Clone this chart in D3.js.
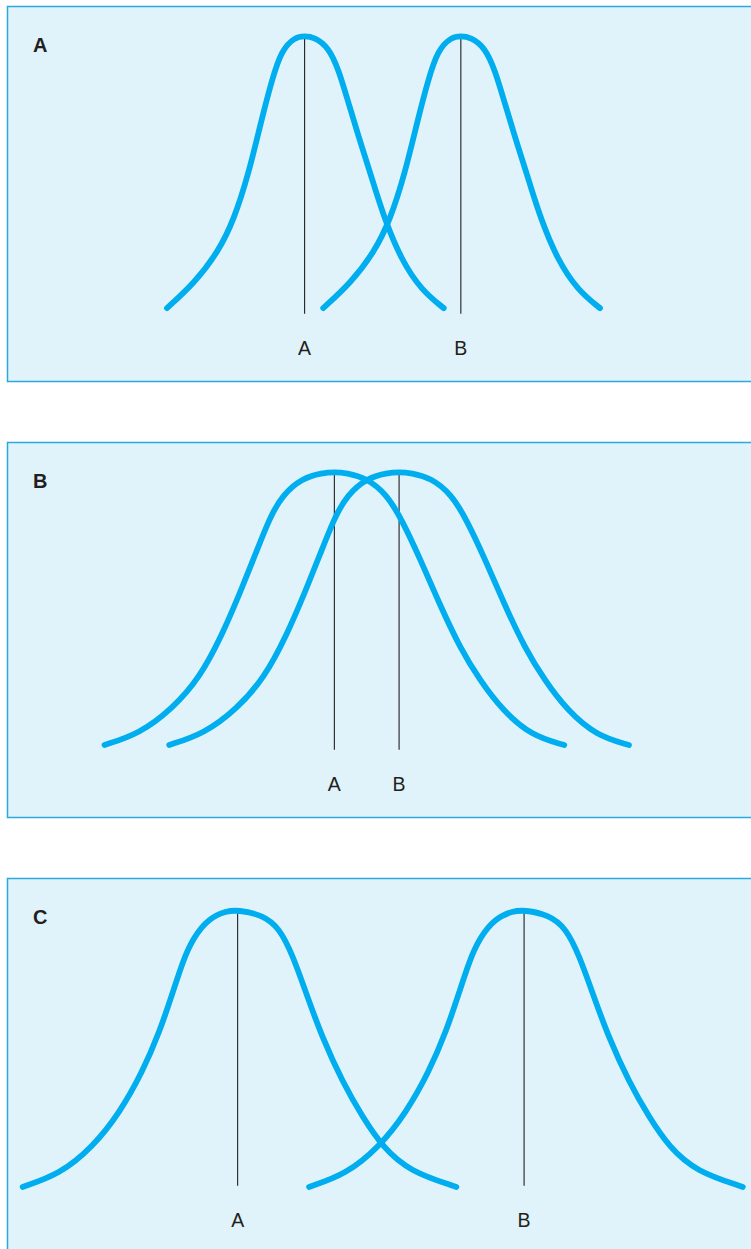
<!DOCTYPE html>
<html>
<head>
<meta charset="utf-8">
<script src="https://cdn.jsdelivr.net/npm/d3@7"></script>
<style>
  html, body { margin: 0; padding: 0; background: #ffffff; }
  svg { display: block; }
</style>
</head>
<body>
<div id="chart"></div>
<script>
// Three scenarios of two overlapping distributions (A and B).
const panelNames = ["A", "B", "C"];
const seriesNames = ["A", "B"];

// Mean position of each distribution on the score axis (0–100)
const meansA = [40, 61];
const meansB = [44, 52.7];
const meansC = [31, 69.5];

// Curve shape per panel: offset from the mean (score units) and relative height
const offsetsA = [-18.5, -14.8, -11.6, -9.5, -7.5, -5.8, -4.4, -3.1, -1.3, 0, 1.3, 3.2, 4.6, 5.9, 7.7, 9.4, 10.8, 13.0, 15.7, 18.7];
const heightsA = [0.035, 0.124, 0.235, 0.348, 0.514, 0.702, 0.844, 0.95, 0.996, 1.0, 0.996, 0.961, 0.879, 0.762, 0.606, 0.465, 0.348, 0.206, 0.099, 0.035];

const offsetsB = [-30.9, -26.2, -21.8, -18.1, -15.1, -12.8, -10.5, -8.7, -7.0, -4.3, -1.6, 0, 1.6, 4.3, 7.0, 9.1, 11.6, 14.2, 16.9, 19.6, 22.6, 26.5, 30.9];
const heightsB = [0.032, 0.072, 0.16, 0.27, 0.422, 0.564, 0.716, 0.837, 0.918, 0.979, 0.997, 1.0, 0.997, 0.979, 0.922, 0.83, 0.688, 0.528, 0.376, 0.26, 0.155, 0.065, 0.032];

const offsetsC = [-28.9, -23.9, -19.5, -15.9, -12.8, -10.5, -8.7, -7.4, -6.0, -3.8, -1.5, 0, 3.4, 5.6, 7.4, 9.3, 11.4, 14.1, 16.8, 19.5, 23.1, 29.4];
const heightsC = [0.011, 0.056, 0.152, 0.272, 0.418, 0.56, 0.702, 0.809, 0.894, 0.965, 0.989, 0.993, 0.975, 0.929, 0.833, 0.691, 0.539, 0.383, 0.258, 0.152, 0.066, 0.011];

// Height at which the mean markers stop
const markerBase = 0.015;

const panels = [
  { name: panelNames[0], means: meansA, offsets: offsetsA, heights: heightsA },
  { name: panelNames[1], means: meansB, offsets: offsetsB, heights: heightsB },
  { name: panelNames[2], means: meansC, offsets: offsetsC, heights: heightsC }
];

const W = 751, H = 1249;
const panelLeft = 7.5, panelWidth = 760, panelHeight = 375, panelStep = 436, panelTop0 = 6;
const curveColor = "#00aeef";
const inkColor = "#231f20";
const fontFamily = "'Liberation Sans', Arial, sans-serif";

const svg = d3.select("#chart").append("svg")
  .attr("width", W).attr("height", H);

const x = d3.scaleLinear().domain([0, 100]).range([7, 751]);
const y = d3.scaleLinear().domain([0, 1]).range([312, 30]);

const line = d3.line()
  .x(d => x(d.x))
  .y(d => y(d.h))
  .curve(d3.curveBasis);

panels.forEach((p, i) => {
  const g = svg.append("g")
    .attr("transform", `translate(0,${panelTop0 + i * panelStep})`);

  g.append("rect")
    .attr("x", panelLeft).attr("y", 0.5)
    .attr("width", panelWidth).attr("height", panelHeight)
    .attr("fill", "#e0f3fb")
    .attr("stroke", "#2aa9de")
    .attr("stroke-width", 1.5);

  g.append("text")
    .attr("x", 33).attr("y", 46)
    .attr("font-family", fontFamily)
    .attr("font-weight", "bold")
    .attr("font-size", 20)
    .attr("fill", inkColor)
    .text(p.name);

  const peak = d3.max(p.heights);

  p.means.forEach((m, j) => {
    g.append("line")
      .attr("x1", x(m)).attr("x2", x(m))
      .attr("y1", y(peak)).attr("y2", y(markerBase))
      .attr("stroke", inkColor)
      .attr("stroke-width", 1.1);

    g.append("text")
      .attr("x", x(m)).attr("y", 349)
      .attr("text-anchor", "middle")
      .attr("font-family", fontFamily)
      .attr("font-size", 19.5)
      .attr("fill", inkColor)
      .text(seriesNames[j]);
  });

  p.means.forEach(m => {
    const pts = p.offsets.map((o, k) => ({ x: m + o, h: p.heights[k] }));
    g.append("path")
      .attr("d", line(pts))
      .attr("fill", "none")
      .attr("stroke", curveColor)
      .attr("stroke-width", 5.8)
      .attr("stroke-linecap", "round")
      .attr("stroke-linejoin", "round");
  });
});
</script>
</body>
</html>
